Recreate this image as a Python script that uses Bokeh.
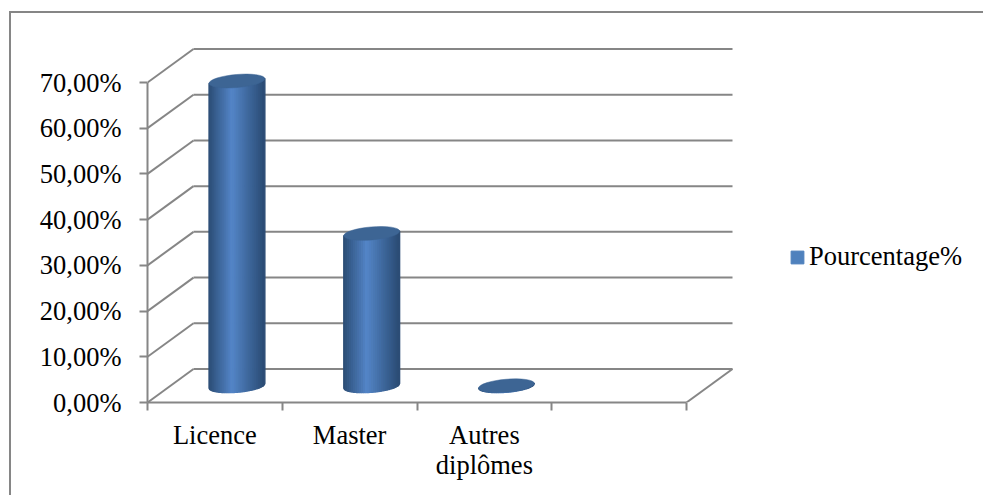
import numpy as np
from bokeh.embed import file_html
from bokeh.models import (ColumnDataSource, FixedTicker, InlineStyleSheet, Legend,
                          LegendItem, LinearAxis, Range1d)
from bokeh.plotting import figure
from bokeh.resources import INLINE

# Chart data
categories = ["Licence", "Master", "Autres\ndiplômes"]
pourcentage = [66.67, 33.33, 0.0]
value_ticks = [0, 10, 20, 30, 40, 50, 60, 70]
value_labels = ["0,00%", "10,00%", "20,00%", "30,00%", "40,00%", "50,00%", "60,00%", "70,00%"]
series_name = "Pourcentage%"
category_slots = 4

# Page layout, in pixels
WIDTH, HEIGHT = 983, 495
LEFT, TOP, BOTTOM = 147, 46, 402
PX_PER_SLOT = 134.75
PX_PER_UNIT = 4.571
DEPTH_PX_X, DEPTH_PX_Y = 46.0, 33.5
RADIUS_PX_X, RADIUS_PX_Y, TILT = 28.0, 6.5, 0.085

GRID = "#868686"
TEXT = "#000000"
FONT = "Liberation Serif"
FONT_SIZE = "26.5px"

x_max = (WIDTH - LEFT) / PX_PER_SLOT
y_max = (BOTTOM - TOP) / PX_PER_UNIT
depth_x = DEPTH_PX_X / PX_PER_SLOT
depth_y = DEPTH_PX_Y / PX_PER_UNIT

# Border of the chart area, open towards the right and bottom page edges
frame_css = InlineStyleSheet(css=f"""
:host::before {{
  content: "";
  position: absolute;
  left: 9px; top: 11px; right: -4px; bottom: -4px;
  border-left: 2px solid {GRID};
  border-top: 2px solid {GRID};
  z-index: 10;
  pointer-events: none;
}}
:host {{ overflow: hidden; }}
""")

p = figure(width=WIDTH, height=HEIGHT, output_backend="svg", toolbar_location=None,
           x_range=Range1d(0, x_max), y_range=Range1d(0, y_max),
           x_axis_location=None, y_axis_location=None,
           min_border_left=LEFT, min_border_right=0,
           min_border_top=TOP, min_border_bottom=HEIGHT - BOTTOM,
           background_fill_color="white", border_fill_color="white",
           outline_line_color=None, stylesheets=[frame_css])
p.grid.visible = False

# Value axis
y_axis = LinearAxis(ticker=FixedTicker(ticks=value_ticks),
                    major_label_overrides={t: s for t, s in zip(value_ticks, value_labels)},
                    bounds=(value_ticks[0], value_ticks[-1]),
                    axis_line_color=GRID, axis_line_width=2,
                    major_tick_line_color=GRID, major_tick_line_width=2,
                    major_tick_in=0, major_tick_out=8,
                    minor_tick_line_color=None,
                    major_label_standoff=18,
                    major_label_text_font=FONT, major_label_text_font_size=FONT_SIZE,
                    major_label_text_color=TEXT)
p.add_layout(y_axis, "left")

# Category axis: labels sit mid-slot, tick marks on the slot edges
centers = [i + 0.5 for i in range(len(categories))]
x_axis = LinearAxis(ticker=FixedTicker(ticks=centers, minor_ticks=list(range(category_slots + 1))),
                    major_label_overrides={c: s for c, s in zip(centers, categories)},
                    bounds=(0, category_slots),
                    axis_line_color=GRID, axis_line_width=2,
                    major_tick_line_color=None, major_tick_in=0, major_tick_out=0,
                    minor_tick_line_color=GRID, minor_tick_line_width=2,
                    minor_tick_in=0, minor_tick_out=8,
                    major_label_standoff=9,
                    major_label_text_font=FONT, major_label_text_font_size=FONT_SIZE,
                    major_label_text_line_height=1.03,
                    major_label_text_color=TEXT)
p.add_layout(x_axis, "below")

# Back wall and side wall gridlines of the 3D box
v = np.array(value_ticks, dtype=float)
p.segment(x0=np.full_like(v, depth_x), y0=v + depth_y,
          x1=np.full_like(v, category_slots + depth_x), y1=v + depth_y,
          line_color=GRID, line_width=2)
p.segment(x0=np.zeros_like(v), y0=v, x1=np.full_like(v, depth_x), y1=v + depth_y,
          line_color=GRID, line_width=2)
p.segment(x0=[category_slots], y0=[0], x1=[category_slots + depth_x], y1=[depth_y],
          line_color=GRID, line_width=2)

# Cylinders: vertical colour strips closed by an elliptical cap
stops = np.array([0.0, 0.42, 1.0])
reds = np.array([0x2b, 0x54, 0x2b])
greens = np.array([0x4c, 0x86, 0x4c])
blues = np.array([0x74, 0xc8, 0x74])
n_strips = 28
mid_depth_x = depth_x * 0.48
mid_depth_y = depth_y * 0.5

t = np.linspace(np.pi, 2 * np.pi, 200)
curve_x = RADIUS_PX_X * np.cos(t) * np.cos(TILT) - RADIUS_PX_Y * np.sin(t) * np.sin(TILT)
curve_y = RADIUS_PX_X * np.cos(t) * np.sin(TILT) + RADIUS_PX_Y * np.sin(t) * np.cos(TILT)
order = np.argsort(curve_x)
curve_x, curve_y = curve_x[order], curve_y[order]
edges = np.linspace(curve_x[0], curve_x[-1], n_strips + 1)

xs, ys, colors = [], [], []
for center, val in zip(centers, pourcentage):
    cx = center + mid_depth_x
    for i in range(n_strips):
        dense = np.linspace(edges[i], edges[i + 1], 4)
        low = mid_depth_y + np.interp(dense, curve_x, curve_y) / PX_PER_UNIT
        high = mid_depth_y + val + dense * np.tan(TILT) / PX_PER_UNIT
        xs.append(list(cx + dense / PX_PER_SLOT) + list(cx + dense[::-1] / PX_PER_SLOT))
        ys.append(list(low) + list(high[::-1]))
        f = (i + 0.5) / n_strips
        r, g, b = (int(np.interp(f, stops, c)) for c in (reds, greens, blues))
        colors.append(f"#{r:02x}{g:02x}{b:02x}")

p.patches(xs="xs", ys="ys", fill_color="color", line_color="color", line_width=1.4,
          source=ColumnDataSource(dict(xs=xs, ys=ys, color=colors)))
p.ellipse(x=[c + mid_depth_x for c in centers],
          y=[mid_depth_y + val for val in pourcentage],
          width=2 * RADIUS_PX_X, height=2 * RADIUS_PX_Y, angle=TILT,
          width_units="screen", height_units="screen",
          fill_color="#3d6594", line_color="#3d6594", line_width=0.5)

# Legend in the free space to the right of the box; its swatch has no plotted area
swatch = p.quad(left=[np.nan], right=[np.nan], top=[np.nan], bottom=[np.nan],
                fill_color="#4f81bd", line_color="#4f81bd")
legend = Legend(items=[LegendItem(label=series_name, renderers=[swatch], index=0)],
                location=(642, 130), orientation="vertical",
                border_line_color=None, background_fill_alpha=0,
                glyph_width=16, glyph_height=16, label_standoff=4,
                padding=0, margin=0,
                label_text_font=FONT, label_text_font_size=FONT_SIZE,
                label_text_color=TEXT)
p.add_layout(legend, "center")

open("out.html", "w").write(file_html(p, INLINE))
